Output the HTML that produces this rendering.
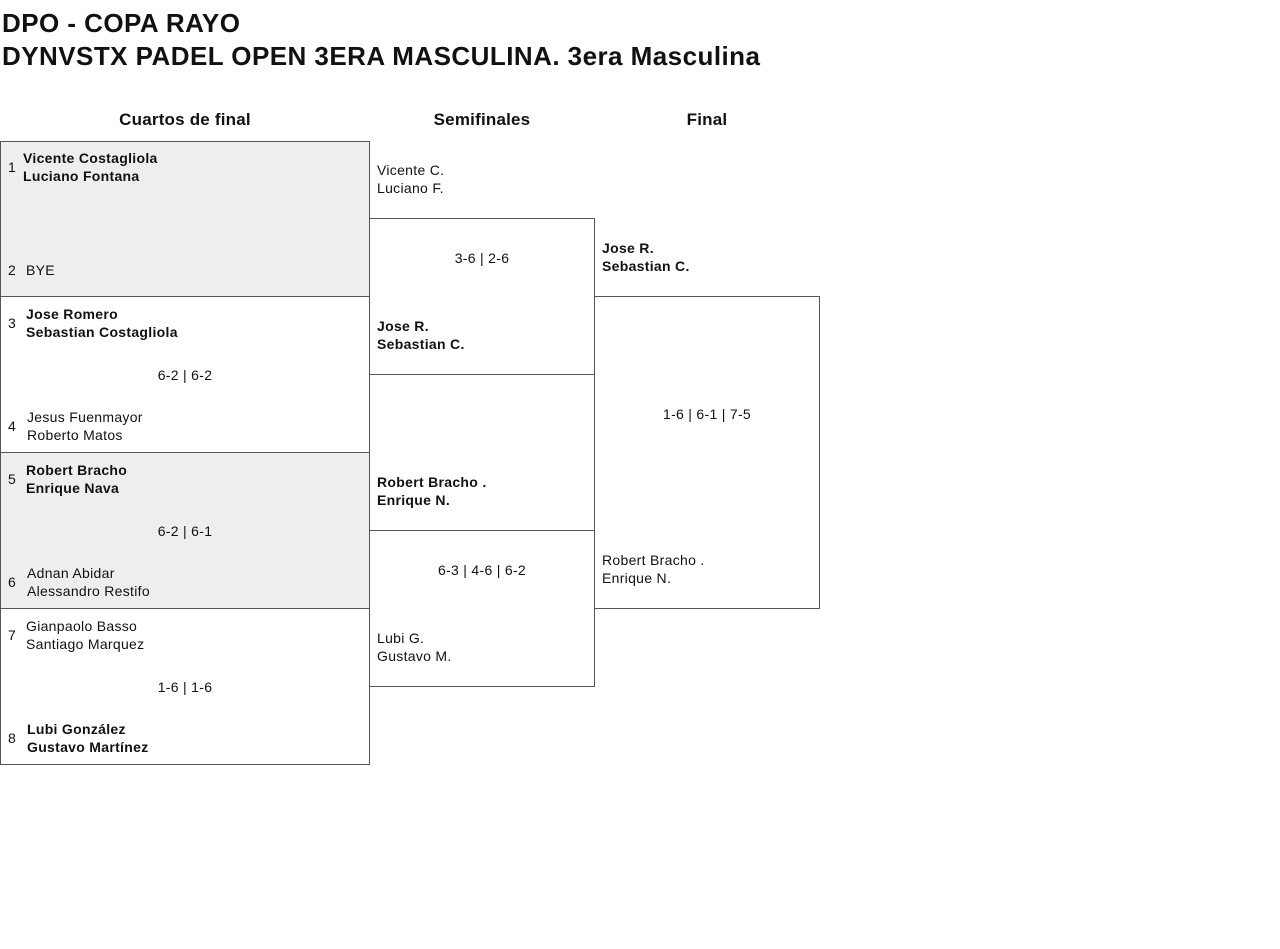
<!DOCTYPE html>
<html><head><meta charset="utf-8"><style>
body{margin:0;width:1280px;height:949px;background:#fff;font-family:"Liberation Sans",sans-serif;color:#111;position:relative;overflow:hidden}
.a{position:absolute;white-space:nowrap}
.t{font-weight:bold;font-size:26px;left:2px;letter-spacing:0.45px}
.h{font-weight:bold;font-size:17px;transform:translateX(-50%);top:110px;letter-spacing:0.2px}
.box{position:absolute;border:1px solid #555;box-sizing:border-box}
.g{background:#eee}
.s{font-size:14px;line-height:18px;letter-spacing:0.3px}
.b{font-weight:bold}
.c{transform:translateX(-50%)}
</style></head><body>
<div class="a t" style="top:8px">DPO - COPA RAYO</div>
<div class="a t" style="top:41px">DYNVSTX PADEL OPEN 3ERA MASCULINA. 3era Masculina</div>
<div class="a h" style="left:185px">Cuartos de final</div>
<div class="a h" style="left:482px">Semifinales</div>
<div class="a h" style="left:707px">Final</div>

<div class="box g" style="left:0;top:141px;width:370px;height:156px"></div>
<div class="box" style="left:0;top:296px;width:370px;height:157px"></div>
<div class="box g" style="left:0;top:452px;width:370px;height:157px"></div>
<div class="box" style="left:0;top:608px;width:370px;height:157px"></div>
<div class="box" style="left:369px;top:218px;width:226px;height:157px"></div>
<div class="box" style="left:369px;top:530px;width:226px;height:157px"></div>
<div class="box" style="left:594px;top:296px;width:226px;height:313px"></div>

<div class="a s" style="left:8px;top:158px">1</div>
<div class="a s b" style="left:23px;top:149px">Vicente Costagliola<br>Luciano Fontana</div>
<div class="a s" style="left:8px;top:261px">2</div>
<div class="a s" style="left:26px;top:261px">BYE</div>

<div class="a s" style="left:8px;top:314px">3</div>
<div class="a s b" style="left:26px;top:305px">Jose Romero<br>Sebastian Costagliola</div>
<div class="a s c" style="left:185px;top:366px">6-2 | 6-2</div>
<div class="a s" style="left:8px;top:417px">4</div>
<div class="a s" style="left:27px;top:408px">Jesus Fuenmayor<br>Roberto Matos</div>

<div class="a s" style="left:8px;top:470px">5</div>
<div class="a s b" style="left:26px;top:461px">Robert Bracho<br>Enrique Nava</div>
<div class="a s c" style="left:185px;top:522px">6-2 | 6-1</div>
<div class="a s" style="left:8px;top:573px">6</div>
<div class="a s" style="left:27px;top:564px">Adnan Abidar<br>Alessandro Restifo</div>

<div class="a s" style="left:8px;top:626px">7</div>
<div class="a s" style="left:26px;top:617px">Gianpaolo Basso<br>Santiago Marquez</div>
<div class="a s c" style="left:185px;top:678px">1-6 | 1-6</div>
<div class="a s" style="left:8px;top:729px">8</div>
<div class="a s b" style="left:27px;top:720px">Lubi González<br>Gustavo Martínez</div>

<div class="a s" style="left:377px;top:161px">Vicente C.<br>Luciano F.</div>
<div class="a s c" style="left:482px;top:249px">3-6 | 2-6</div>
<div class="a s b" style="left:377px;top:317px">Jose R.<br>Sebastian C.</div>
<div class="a s b" style="left:377px;top:473px">Robert Bracho .<br>Enrique N.</div>
<div class="a s c" style="left:482px;top:561px">6-3 | 4-6 | 6-2</div>
<div class="a s" style="left:377px;top:629px">Lubi G.<br>Gustavo M.</div>

<div class="a s b" style="left:602px;top:239px">Jose R.<br>Sebastian C.</div>
<div class="a s c" style="left:707px;top:405px">1-6 | 6-1 | 7-5</div>
<div class="a s" style="left:602px;top:551px">Robert Bracho .<br>Enrique N.</div>
</body></html>
